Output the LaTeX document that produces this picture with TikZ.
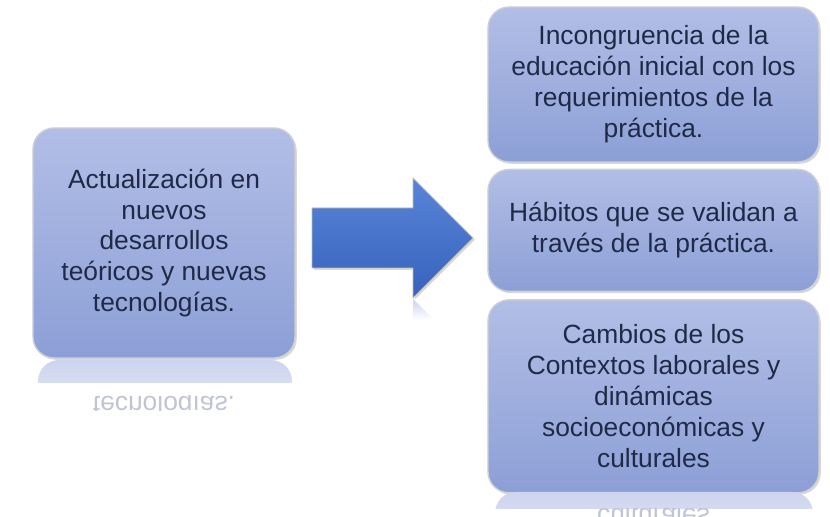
\documentclass[tikz,border=0pt]{standalone}
\usepackage{fontspec}
\setmainfont{Liberation Sans}
\usetikzlibrary{positioning,shadows}
\definecolor{boxtop}{RGB}{178,190,230}
\definecolor{boxbot}{RGB}{140,159,214}
\definecolor{boxline}{RGB}{205,208,215}
\definecolor{ink}{RGB}{30,42,72}
\definecolor{arrtop}{RGB}{88,132,216}
\definecolor{arrbot}{RGB}{56,98,188}
\definecolor{arrline}{RGB}{185,190,175}
\definecolor{reftop}{RGB}{205,212,238}
\definecolor{refbot}{RGB}{234,237,247}
\definecolor{reftext}{RGB}{192,196,212}
\begin{document}
\begin{tikzpicture}[x=0.03cm, y=-0.03cm,
  every node/.style = {align=center, text=ink,
     font=\fontsize{22.5}{26.4}\selectfont},
  box/.style = {shape=rectangle, rounded corners=18pt,
     draw=boxline, line width=1.2pt, inner sep=0pt,
     top color=boxtop, bottom color=boxbot, minimum width=9.93cm,
     drop shadow={opacity=0.3, shadow xshift=1.5pt, shadow yshift=-1.5pt}},
  bigarrow/.style = {top color=arrtop, bottom color=arrbot,
     draw=arrline, line width=0.8pt,
     drop shadow={opacity=0.3, shadow xshift=1.5pt, shadow yshift=-1.5pt}},
  mirror/.style = {yscale=-1, anchor=base, text=reftext}]
\useasboundingbox (0,0) rectangle (830,517);
\node [box, minimum width=7.86cm, minimum height=6.9cm] (act) at (164,243)
  {Actualización en\\nuevos\\desarrollos\\teóricos y nuevas\\tecnologías.};
\node [box, minimum height=4.65cm] (inc) at (653.5,84.5)
  {Incongruencia de la\\educación inicial con los\\requerimientos de la\\práctica.};
\node [box, minimum height=3.66cm, below=0.18cm of inc] (hab)
  {Hábitos que se validan a\\través de la práctica.};
\node [box, minimum height=5.79cm, below=0.21cm of hab] (cam)
  {Cambios de los\\Contextos laborales y\\dinámicas\\socioeconómicas y\\culturales};
% flecha
\shadedraw [bigarrow] (312,208) -- (413,208) -- (413,178) -- (473,238)
  -- (413,298) -- (413,268) -- (312,268) -- cycle;
% reflejos
\begin{scope}
  \clip (30,360) rectangle (300,383);
  \shade [top color=reftop, bottom color=refbot, rounded corners=18pt]
    (38,360) rectangle (292,430);
\end{scope}
\begin{scope}
  \clip (30,396) rectangle (300,411);
  \node [mirror] (ract) at (164,397) {tecnologías.};
\end{scope}
\begin{scope}
  \clip (485,492) rectangle (822,509);
  \shade [top color=reftop, bottom color=refbot, rounded corners=18pt]
    (495,492) rectangle (813,560);
\end{scope}
\begin{scope}
  \clip (485,509) rectangle (822,517);
  \node [mirror] (rcam) at (653.5,509) {culturales};
\end{scope}
\shade [top color=reftop, bottom color=white] (413,299) -- (434,320) -- (413,320) -- cycle;
\end{tikzpicture}
\end{document}
